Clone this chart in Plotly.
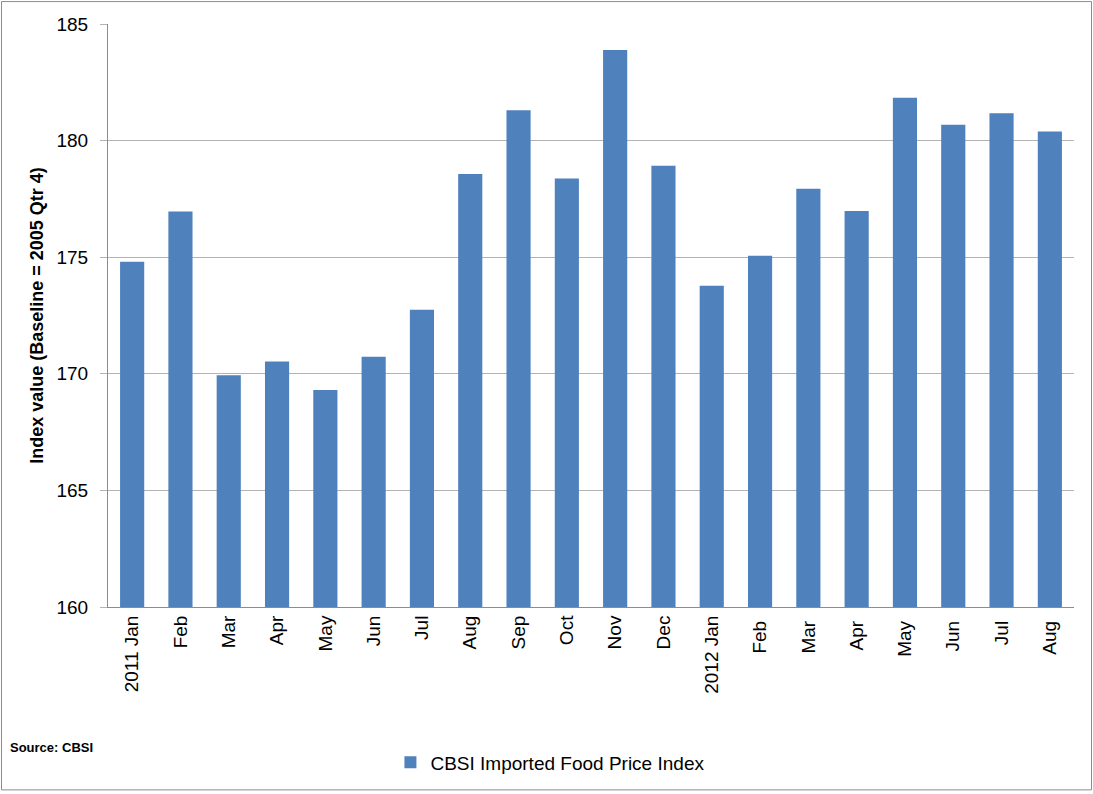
import plotly.graph_objects as go

months = ["2011 Jan", "Feb", "Mar", "Apr", "May", "Jun", "Jul", "Aug", "Sep", "Oct",
          "Nov", "Dec", "2012 Jan", "Feb ", "Mar ", "Apr ", "May ", "Jun ", "Jul ", "Aug "]
index_values = [174.8, 176.96, 169.94, 170.53, 169.31, 170.73, 172.75, 178.57, 181.3, 178.38,
                183.88, 178.92, 173.78, 175.06, 177.94, 176.98, 181.84, 180.68, 181.17, 180.39]
y_ticks = [160, 165, 170, 175, 180, 185]
series_name = "CBSI Imported Food Price Index"

W, H = 1093, 794
L, R, T, B = 108, 19, 24, 185
pw, ph = W - L - R, H - T - B

def px(x):
    return (x - L) / pw

def py(y):
    return (H - B - y) / ph

FONT = "Liberation Sans"

fig = go.Figure()
fig.add_trace(go.Bar(
    x=months, y=index_values, name=series_name,
    marker=dict(color="#4F81BD", line=dict(width=0)),
    showlegend=True,
))

fig.update_layout(
    width=W, height=H,
    margin=dict(l=L, r=R, t=T, b=B),
    paper_bgcolor="white", plot_bgcolor="white",
    bargap=0.5,
    font=dict(family=FONT, color="#000000"),
    showlegend=True,
    legend=dict(
        orientation="h", x=0.458, xanchor="center", y=py(765), yanchor="middle",
        font=dict(family=FONT, size=19, color="#000000"),
        bgcolor="rgba(0,0,0,0)",
    ),
    xaxis=dict(
        type="category", tickangle=-90,
        tickfont=dict(family=FONT, size=19, color="#000000"),
        showline=True, linecolor="#8c8c8c", linewidth=1,
        showgrid=False, ticks="", ticklen=0,
    ),
    yaxis=dict(
        range=[160, 185], tickvals=y_ticks,
        tickfont=dict(family=FONT, size=19, color="#000000"),
        showline=True, linecolor="#8c8c8c", linewidth=1,
        showgrid=True, gridcolor="#b3b3b3", gridwidth=1,
        ticks="outside", ticklen=7, tickcolor="#b3b3b3",
        ticklabelstandoff=8,
        zeroline=False,
        title=dict(text="<b>Index value (Baseline = 2005 Qtr 4)</b>",
                   font=dict(family=FONT, size=18, color="#000000"), standoff=8),
    ),
    shapes=[dict(type="rect", xref="paper", yref="paper",
                 x0=px(1.5), x1=px(1091.5), y0=py(792.5), y1=py(1.5),
                 line=dict(color="#8c8c8c", width=1), fillcolor="rgba(0,0,0,0)", layer="below")],
    annotations=[dict(text="<b>Source: CBSI</b>", xref="paper", yref="paper",
                      x=px(8), y=py(750), xanchor="left", yanchor="middle", showarrow=False,
                      font=dict(family=FONT, size=13, color="#000000"))],
)

fig.write_html("out.html")
